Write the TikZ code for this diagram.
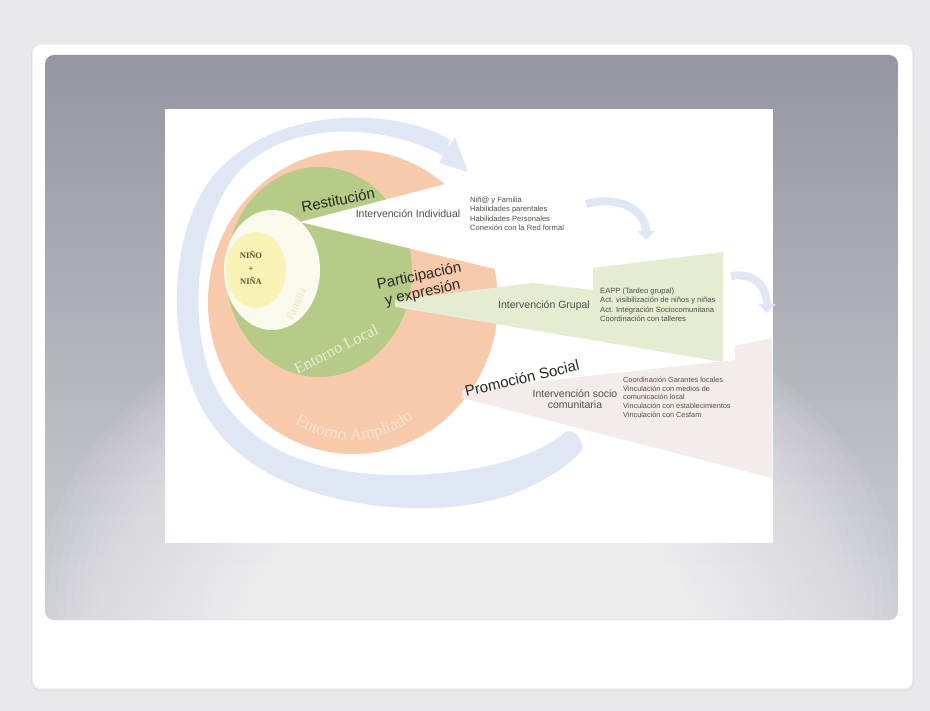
\documentclass[tikz,border=0pt]{standalone}
\usepackage{fontspec}
\setmainfont{Liberation Sans}
\newfontfamily\serifL{Liberation Serif}
\usetikzlibrary{decorations.text,arrows.meta}
\definecolor{bgout}{RGB}{233,233,236}
\definecolor{panelgray}{RGB}{150,150,162}
\definecolor{panellow}{RGB}{206,206,213}
\definecolor{orangeC}{RGB}{246,202,170}
\definecolor{greenC}{RGB}{182,203,136}
\definecolor{ringC}{RGB}{250,250,236}
\definecolor{yellowC}{RGB}{248,242,180}
\definecolor{wedgeG}{RGB}{228,236,210}
\definecolor{wedgeP}{RGB}{243,236,234}
\definecolor{blueA}{RGB}{223,231,245}
\definecolor{txtD}{RGB}{42,40,32}
\definecolor{txtS}{RGB}{78,78,72}
\definecolor{famC}{RGB}{228,225,188}
\definecolor{localC}{RGB}{234,238,214}
\definecolor{amplC}{RGB}{250,230,213}
\definecolor{ninoC}{RGB}{95,80,45}
\tikzset{
  lblbig/.style={font=\fontsize{15}{17}\selectfont, text=txtD, inner sep=0pt},
  lblsmall/.style={font=\fontsize{10.5}{11.5}\selectfont, text=txtS, inner sep=0pt},
  listtxt/.style={font=\fontsize{7.6}{9.2}\selectfont, text=txtS, align=left, inner sep=0pt},
  listtxtp/.style={font=\fontsize{7.3}{8.7}\selectfont, text=txtS, align=left, inner sep=0pt},
  ringlbl/.style={font=\serifL\fontsize{16}{16}\selectfont, inner sep=0pt},
  bluearrow/.style={blueA, line width=8pt, -{Triangle[length=9pt,width=17pt]}}
}
\begin{document}
\begin{tikzpicture}[x=1pt,y=-1pt]
\useasboundingbox (0,0) rectangle (930,711);
% background and card
\fill[bgout] (0,0) rectangle (930,711);
\fill[black!12, rounded corners=9] (31,45) rectangle (914,691);
\fill[black!7, rounded corners=9] (32,44) rectangle (913,690);
\fill[white, rounded corners=8] (33,45) rectangle (912,688);
% gray panel with soft glow
\begin{scope}
  \clip[rounded corners=9] (45,55) rectangle (898,620);
  \shade[top color=panelgray, bottom color=panellow] (45,55) rectangle (898,620);
  \foreach \i in {0,...,49} {
    \pgfmathsetmacro\rr{1-\i/50}
    \fill[white, fill opacity=0.05] (470,600) ellipse [x radius={430*\rr}, y radius={320*\rr}];
  }
\end{scope}
% slide
\fill[white] (165,109) rectangle (773,543);
% circles
\fill[orangeC] (353,302) ellipse [x radius=145, y radius=152];
\fill[greenC] (319,272) ellipse [x radius=93, y radius=105];
% wedges
\fill[white] (300,222) -- (480,175) -- (520,275) -- cycle;
\fill[wedgeG] (395,300) -- (533,283) -- (593,290) -- (593,268) -- (723,252) -- (723,362) -- (395,307) -- cycle;
\fill[wedgeP] (462,390) -- (735,360) -- (735,346) -- (772,338) -- (772,478) -- (462,398) -- cycle;
% family ring and child
\fill[ringC] (272,270) ellipse [x radius=48, y radius=60];
\fill[yellowC] (256,270) ellipse [x radius=30, y radius=38];
% big C-shaped arrow
\fill[blueA] (450,140) .. controls (400,108) and (270,102) .. (210,180)
  .. controls (160,250) and (165,390) .. (235,450)
  .. controls (300,508) and (430,522) .. (510,495)
  .. controls (545,482) and (570,465) .. (582,450)
  .. controls (584,440) and (574,428) .. (565,432)
  .. controls (540,455) and (480,475) .. (400,475)
  .. controls (310,475) and (240,445) .. (212,380)
  .. controls (188,320) and (195,220) .. (240,170)
  .. controls (300,112) and (400,130) .. (445,157) -- cycle;
\fill[blueA] (455,137) -- (468,172) -- (439,163) -- cycle;
% small arrows
\draw[bluearrow] (586,204) .. controls (625,194) and (646,214) .. (646,240);
\draw[bluearrow] (731,276) .. controls (758,272) and (767,290) .. (767,313);
% texts
\node[lblbig, rotate=11] (restit) at (338,200) {Restitución};
\node[lblsmall] (indiv) at (408,214) {Intervención Individual};
\node[listtxt, anchor=north west] (listI) at (470,197) {Niñ@ y Familia\\Habilidades parentales\\Habilidades Personales\\Conexión con la Red formal};
\node[lblbig, rotate=12, align=center] (partic) at (421,285) {Participación\\y expresión};
\node[lblsmall] (grupal) at (544,306) {Intervención Grupal};
\node[listtxt, anchor=north west] (listG) at (600,288) {EAPP (Tardeo grupal)\\Act. visibilización de niños y niñas\\Act. Integración Sociocomunitaria\\Coordinación con talleres};
\node[lblbig, rotate=13] (promo) at (522,378) {Promoción Social};
\node[lblsmall, align=center] (socio) at (575,399) {Intervención socio\\comunitaria};
\node[listtxtp, anchor=north west] (listP) at (623,377) {Coordinación Garantes locales\\Vinculación con medios de\\comunicación local\\Vinculación con establecimientos\\Vinculación con Cesfam};
\node[font=\serifL\bfseries\fontsize{8.5}{13}\selectfont, text=ninoC, align=center, inner sep=0pt] (nino) at (251,268) {NIÑO\\+\\NIÑA};
\node[font=\serifL\fontsize{11}{11}\selectfont, text=famC, rotate=65, inner sep=0pt] (fam) at (296,304) {Familia};
\node[ringlbl, text=localC, rotate=27] (local) at (336,349) {Entorno Local};
\path[decorate, decoration={text along path, text align=center,
  text={|\serifL\fontsize{17}{17}\selectfont\color{amplC}|Entorno Ampliado}}]
  (275,405) .. controls (310,450) and (390,455) .. (432,400);
\end{tikzpicture}
\end{document}
